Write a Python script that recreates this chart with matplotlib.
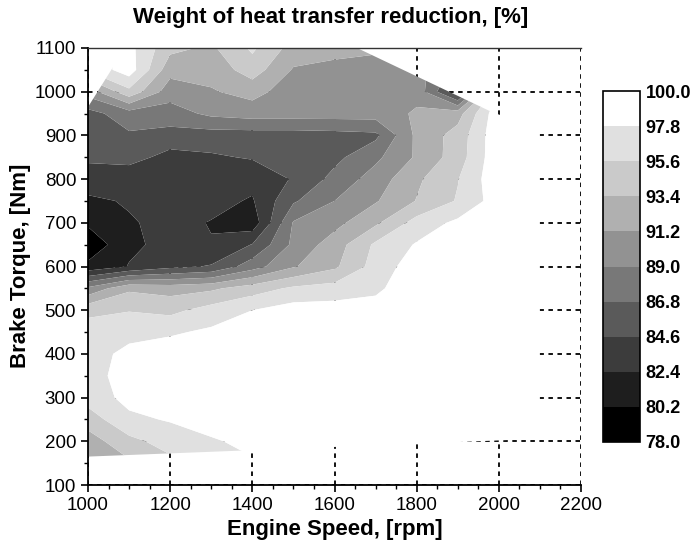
import matplotlib
matplotlib.use("Agg")
import matplotlib.pyplot as plt
from matplotlib.patches import Polygon
import numpy as np

plt.rcParams['font.family'] = ['Liberation Sans', 'DejaVu Sans']

# Operating grid: engine speed (columns) and brake torque (rows)
speed_rpm = [1000, 1100, 1200, 1300, 1400, 1500, 1600, 1700, 1800, 1900, 2000, 2100]
torque_nm = [150, 200, 250, 300, 350, 400, 450, 500, 550, 600,
             650, 700, 750, 800, 850, 900, 950, 1000, 1050, 1100]

# Weight of heat transfer reduction [%], one list per torque row
w150 = [91.0, 93.0, 95.0, 96.5, 97.5, 98.5, 99.3, 99.5, 99.8, 99.8, 99.8, 99.8]
w200 = [92.3, 95.0, 96.5, 97.5, 98.5, 99.3, 99.5, 99.8, 99.8, 99.8, 99.8, 99.8]
w250 = [94.5, 97.3, 98.0, 99.0, 99.5, 99.5, 99.8, 99.8, 99.8, 99.8, 99.8, 99.8]
w300 = [96.5, 98.5, 99.3, 99.5, 99.5, 99.8, 99.8, 99.8, 99.8, 99.8, 99.8, 99.8]
w350 = [96.7, 99.0, 99.5, 99.5, 99.5, 99.8, 99.8, 99.8, 99.8, 99.8, 99.8, 99.8]
w400 = [96.7, 98.5, 99.0, 99.5, 99.5, 99.8, 99.8, 99.8, 99.8, 99.8, 99.8, 99.8]
w450 = [96.7, 97.0, 97.5, 98.2, 99.0, 99.5, 99.5, 99.5, 99.8, 99.8, 99.8, 99.8]
w500 = [95.0, 95.5, 95.0, 96.5, 97.8, 98.8, 98.8, 98.8, 99.5, 99.8, 99.8, 99.8]
w550 = [89.5, 93.0, 92.5, 93.0, 94.5, 96.0, 96.5, 97.3, 99.5, 99.8, 99.8, 99.8]
w600 = [80.8, 82.5, 84.0, 84.8, 88.0, 91.0, 93.0, 96.5, 99.0, 99.8, 99.8, 99.8]
w650 = [78.5, 82.0, 83.0, 82.5, 84.7, 89.5, 92.3, 96.0, 98.0, 99.5, 99.8, 99.8]
w700 = [80.6, 82.2, 83.0, 82.3, 81.0, 89.2, 90.5, 93.0, 96.5, 98.3, 99.5, 99.8]
w750 = [82.0, 82.6, 83.0, 83.0, 82.2, 86.5, 89.0, 91.0, 93.5, 95.8, 99.0, 99.8]
w800 = [83.5, 83.0, 83.0, 83.0, 83.0, 84.8, 87.5, 90.0, 93.0, 95.5, 99.5, 99.8]
w850 = [85.0, 85.5, 83.8, 84.3, 84.8, 85.3, 86.2, 88.5, 91.5, 94.5, 99.5, 99.8]
w900 = [86.5, 86.5, 86.0, 85.8, 85.8, 85.8, 86.0, 86.3, 91.7, 94.3, 99.5, 99.8]
w950 = [86.0, 88.0, 88.0, 89.5, 90.0, 90.0, 90.0, 90.0, 91.5, 92.5, 99.5, 99.8]
w1000 = [90.0, 95.0, 90.0, 91.0, 92.0, 90.0, 90.0, 90.0, 90.5, 83.0, 98.0, 99.8]
w1050 = [96.0, 99.0, 92.0, 92.0, 94.5, 91.0, 90.5, 90.5, 90.0, 86.0, 99.0, 99.8]
w1100 = [97.0, 98.5, 94.0, 93.0, 96.0, 92.5, 92.0, 91.5, 90.0, 88.0, 99.0, 99.8]

# Outline of the measured operating range
range_speed = [1000, 1000, 1090, 1655, 1975, 2100, 2100, 1870]
range_torque = [165, 965, 1100, 1100, 957, 910, 206, 197]

levels = [78.0, 80.2, 82.4, 84.6, 86.8, 89.0, 91.2, 93.4, 95.6, 97.8, 100.0]
fill_colors = ['#000000', '#1e1e1e', '#3c3c3c', '#5a5a5a', '#787878',
               '#929292', '#b0b0b0', '#cacaca', '#e0e0e0', '#ffffff']

weight = np.array([w150, w200, w250, w300, w350, w400, w450, w500, w550, w600,
                   w650, w700, w750, w800, w850, w900, w950, w1000, w1050, w1100])

fig = plt.figure(figsize=(6.92, 5.48), dpi=100)
ax = fig.add_axes([88 / 692, 1 - 485 / 548, 493 / 692, 437 / 548])
cax = fig.add_axes([603 / 692, 1 - 442 / 548, 37 / 692, 351 / 548])

ax.set_axisbelow(True)
ax.grid(True, color='black', linestyle=(0, (2.5, 2.5)), linewidth=1.3)

cs = ax.contourf(speed_rpm, torque_nm, weight, levels=levels, colors=fill_colors,
                 antialiased=True, zorder=1)
outline = Polygon(np.column_stack([range_speed, range_torque]), closed=True,
                  transform=ax.transData)
cs.set_clip_path(outline)

ax.set_xlim(1000, 2200)
ax.set_ylim(100, 1100)
ax.set_xticks(np.arange(1000, 2201, 200))
ax.set_yticks(np.arange(100, 1101, 100))
ax.set_xticks(np.arange(1000, 2201, 50), minor=True)
ax.set_yticks(np.arange(100, 1101, 50), minor=True)
ax.tick_params(which='major', direction='out', length=5, width=1.2, labelsize=13.5)
ax.tick_params(which='minor', direction='out', length=3, width=1.0)
ax.spines['right'].set_visible(False)
for side in ('left', 'bottom'):
    ax.spines[side].set_linewidth(1.3)
ax.spines['top'].set_linewidth(1.0)
ax.spines['top'].set_color('#333333')

fig.text(0.478, 0.968, 'Weight of heat transfer reduction, [%]', ha='center',
         va='center', fontsize=16, fontweight='bold')
fig.text(335 / 692, 1 - 530 / 548, 'Engine Speed, [rpm]', ha='center', va='center',
         fontsize=16, fontweight='bold')
fig.text(21 / 692, 1 - 266 / 548, 'Brake Torque, [Nm]', ha='center', va='center',
         rotation=90, fontsize=16, fontweight='bold')

cb = fig.colorbar(cs, cax=cax, ticks=levels)
cb.ax.set_yticklabels(['%.1f' % v for v in levels], fontsize=13, fontweight='bold')
cb.ax.tick_params(length=0, pad=4)
cb.outline.set_linewidth(1.2)

fig.savefig('out.png', dpi=100)
